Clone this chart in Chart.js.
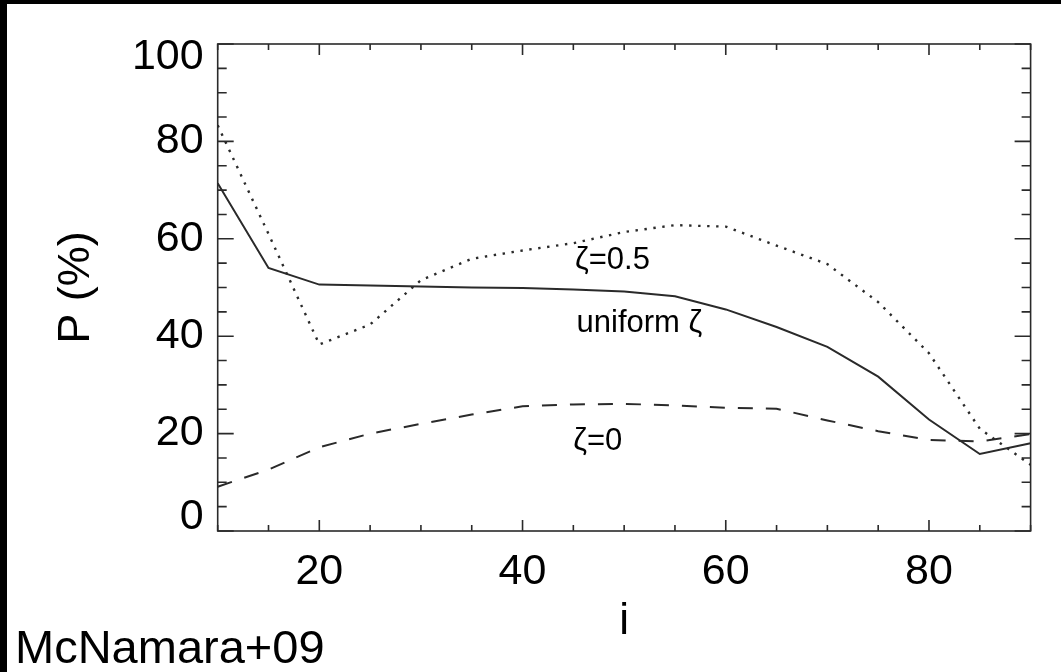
<!DOCTYPE html>
<html>
<head>
<meta charset="utf-8">
<script src="https://cdn.jsdelivr.net/npm/chart.js@4.4.1/dist/chart.umd.min.js"></script>
<style>
  html, body { margin: 0; padding: 0; background: #000; width: 1061px; height: 672px; overflow: hidden; }
  #paper { position: absolute; left: 7px; top: 4px; width: 1054px; height: 668px; background: #fff; }
  #c { position: absolute; left: 0; top: 0; }
  #credit { position: absolute; left: 8px; top: 619px; font: 47px "Liberation Sans", Arial, Helvetica, sans-serif; line-height: 47px; color: #000; white-space: nowrap; }
</style>
</head>
<body>
<div id="paper">
  <canvas id="c" width="1054" height="668"></canvas>
  <div id="credit">McNamara+09</div>
</div>
<script>
// ---- data ----
const inclination = [10, 15, 20, 25, 30, 35, 40, 45, 50, 55, 60, 65, 70, 75, 80, 85, 90];
const uniformZeta = [71.4, 54.0, 50.6, 50.4, 50.2, 50.0, 49.9, 49.6, 49.2, 48.2, 45.5, 41.9, 37.8, 31.7, 22.9, 15.8, 18.0];
const zetaHalf    = [83.3, 61.0, 38.3, 42.4, 51.5, 55.9, 57.6, 59.1, 61.4, 62.8, 62.5, 58.6, 54.8, 47.0, 36.5, 21.0, 13.6];
const zetaZero    = [9.1, 12.6, 17.2, 20.0, 22.0, 23.9, 25.6, 26.0, 26.1, 25.8, 25.3, 25.1, 22.7, 20.5, 18.7, 18.4, 19.9];

const xTickValues = [20, 40, 60, 80];
const yTickValues = [0, 20, 40, 60, 80, 100];
const minorStep = 5;

const curveLabels = ['ζ=0.5', 'uniform ζ', 'ζ=0'];
const curveLabelX = [48.85, 51.5, 47.4];
const curveLabelY = [53.8, 40.9, 16.6];

function toPoints(ys) { return inclination.map((x, k) => ({ x: x, y: ys[k] })); }

const FONT = '"Liberation Sans", Arial, Helvetica, sans-serif';
const INK = '#2a2a2a';
const TICK_FONT = { family: FONT, size: 43 };
const Y_AXIS_WIDTH = 210.7;
const END_LABEL_SHIFT_BOTTOM = 14;   // the 0 label sits inside the axis range, as in the original
const END_LABEL_SHIFT_TOP = 13;      // the 100 label likewise

const frameAndTicks = {
  id: 'frameAndTicks',
  afterDatasetsDraw(chart) {
    const { ctx, chartArea: a } = chart;
    const xs = chart.scales.x, ys = chart.scales.y;
    ctx.save();
    ctx.strokeStyle = INK;
    ctx.lineWidth = 1.6;
    ctx.strokeRect(a.left, a.top, a.right - a.left, a.bottom - a.top);
    ctx.beginPath();
    for (let v = xs.min; v <= xs.max + 1e-9; v += minorStep) {
      const px = xs.getPixelForValue(v);
      const len = (v % 20 === 0) ? 11 : 6;
      ctx.moveTo(px, a.bottom); ctx.lineTo(px, a.bottom - len);
      ctx.moveTo(px, a.top); ctx.lineTo(px, a.top + len);
    }
    for (let v = ys.min; v <= ys.max + 1e-9; v += minorStep) {
      const py = ys.getPixelForValue(v);
      const len = (v % 20 === 0) ? 16 : 9;
      ctx.moveTo(a.left, py); ctx.lineTo(a.left + len, py);
      ctx.moveTo(a.right, py); ctx.lineTo(a.right - len, py);
    }
    ctx.stroke();
    // curve labels
    ctx.fillStyle = '#000';
    ctx.font = '31px ' + FONT;
    ctx.textAlign = 'center';
    ctx.textBaseline = 'alphabetic';
    curveLabels.forEach((t, k) => {
      ctx.fillText(t, xs.getPixelForValue(curveLabelX[k]), ys.getPixelForValue(curveLabelY[k]));
    });
    ctx.restore();
  }
};

const yMin = 0, yMax = 100;

new Chart(document.getElementById('c'), {
  type: 'line',
  data: {
    datasets: [
      { label: 'uniform ζ', data: toPoints(uniformZeta), borderColor: INK, borderWidth: 2, pointRadius: 0, tension: 0, fill: false },
      { label: 'ζ=0.5', data: toPoints(zetaHalf), borderColor: INK, borderWidth: 2.4, borderDash: [2.4, 6.6], pointRadius: 0, tension: 0, fill: false },
      { label: 'ζ=0', data: toPoints(zetaZero), borderColor: INK, borderWidth: 2, borderDash: [15, 13], pointRadius: 0, tension: 0, fill: false }
    ]
  },
  options: {
    responsive: false,
    animation: false,
    devicePixelRatio: 1,
    layout: { padding: { left: 0, top: 36, right: 30.4, bottom: 0 } },
    plugins: { legend: { display: false }, tooltip: { enabled: false } },
    scales: {
      x: {
        type: 'linear', min: 10, max: 90,
        grid: { display: false, drawTicks: false },
        border: { display: false },
        afterBuildTicks(s) { s.ticks = xTickValues.map(v => ({ value: v })); },
        afterFit(s) { s.height = 141; },
        ticks: { color: '#000', font: TICK_FONT, padding: 15, maxRotation: 0, autoSkip: false },
        title: { display: true, text: 'i', color: '#000', font: { family: FONT, size: 44 }, padding: { top: 0, bottom: 24 } }
      },
      y: {
        type: 'linear', position: 'left', min: yMin, max: yMax,
        grid: { display: false, drawTicks: false },
        border: { display: false },
        afterBuildTicks(s) { s.ticks = yTickValues.map(v => ({ value: v })); },
        afterFit(s) { s.width = Y_AXIS_WIDTH; },
        ticks: {
          color: '#000', padding: 14, autoSkip: false,
          callback(v) {
            const t = String(v);
            if (v === yMin) return [t, ''];
            if (v === yMax) return ['', t];
            return t;
          },
          font(ctx) {
            const v = ctx.tick ? ctx.tick.value : null;
            if (v === yMin) return { family: FONT, size: 43, lineHeight: (2 * END_LABEL_SHIFT_BOTTOM) + 'px' };
            if (v === yMax) return { family: FONT, size: 43, lineHeight: (2 * END_LABEL_SHIFT_TOP) + 'px' };
            return TICK_FONT;
          }
        },
        title: { display: true, text: 'P (%)', color: '#000', font: { family: FONT, size: 45 }, padding: { top: 43, bottom: 0 } }
      }
    }
  },
  plugins: [frameAndTicks]
});
</script>
</body>
</html>
